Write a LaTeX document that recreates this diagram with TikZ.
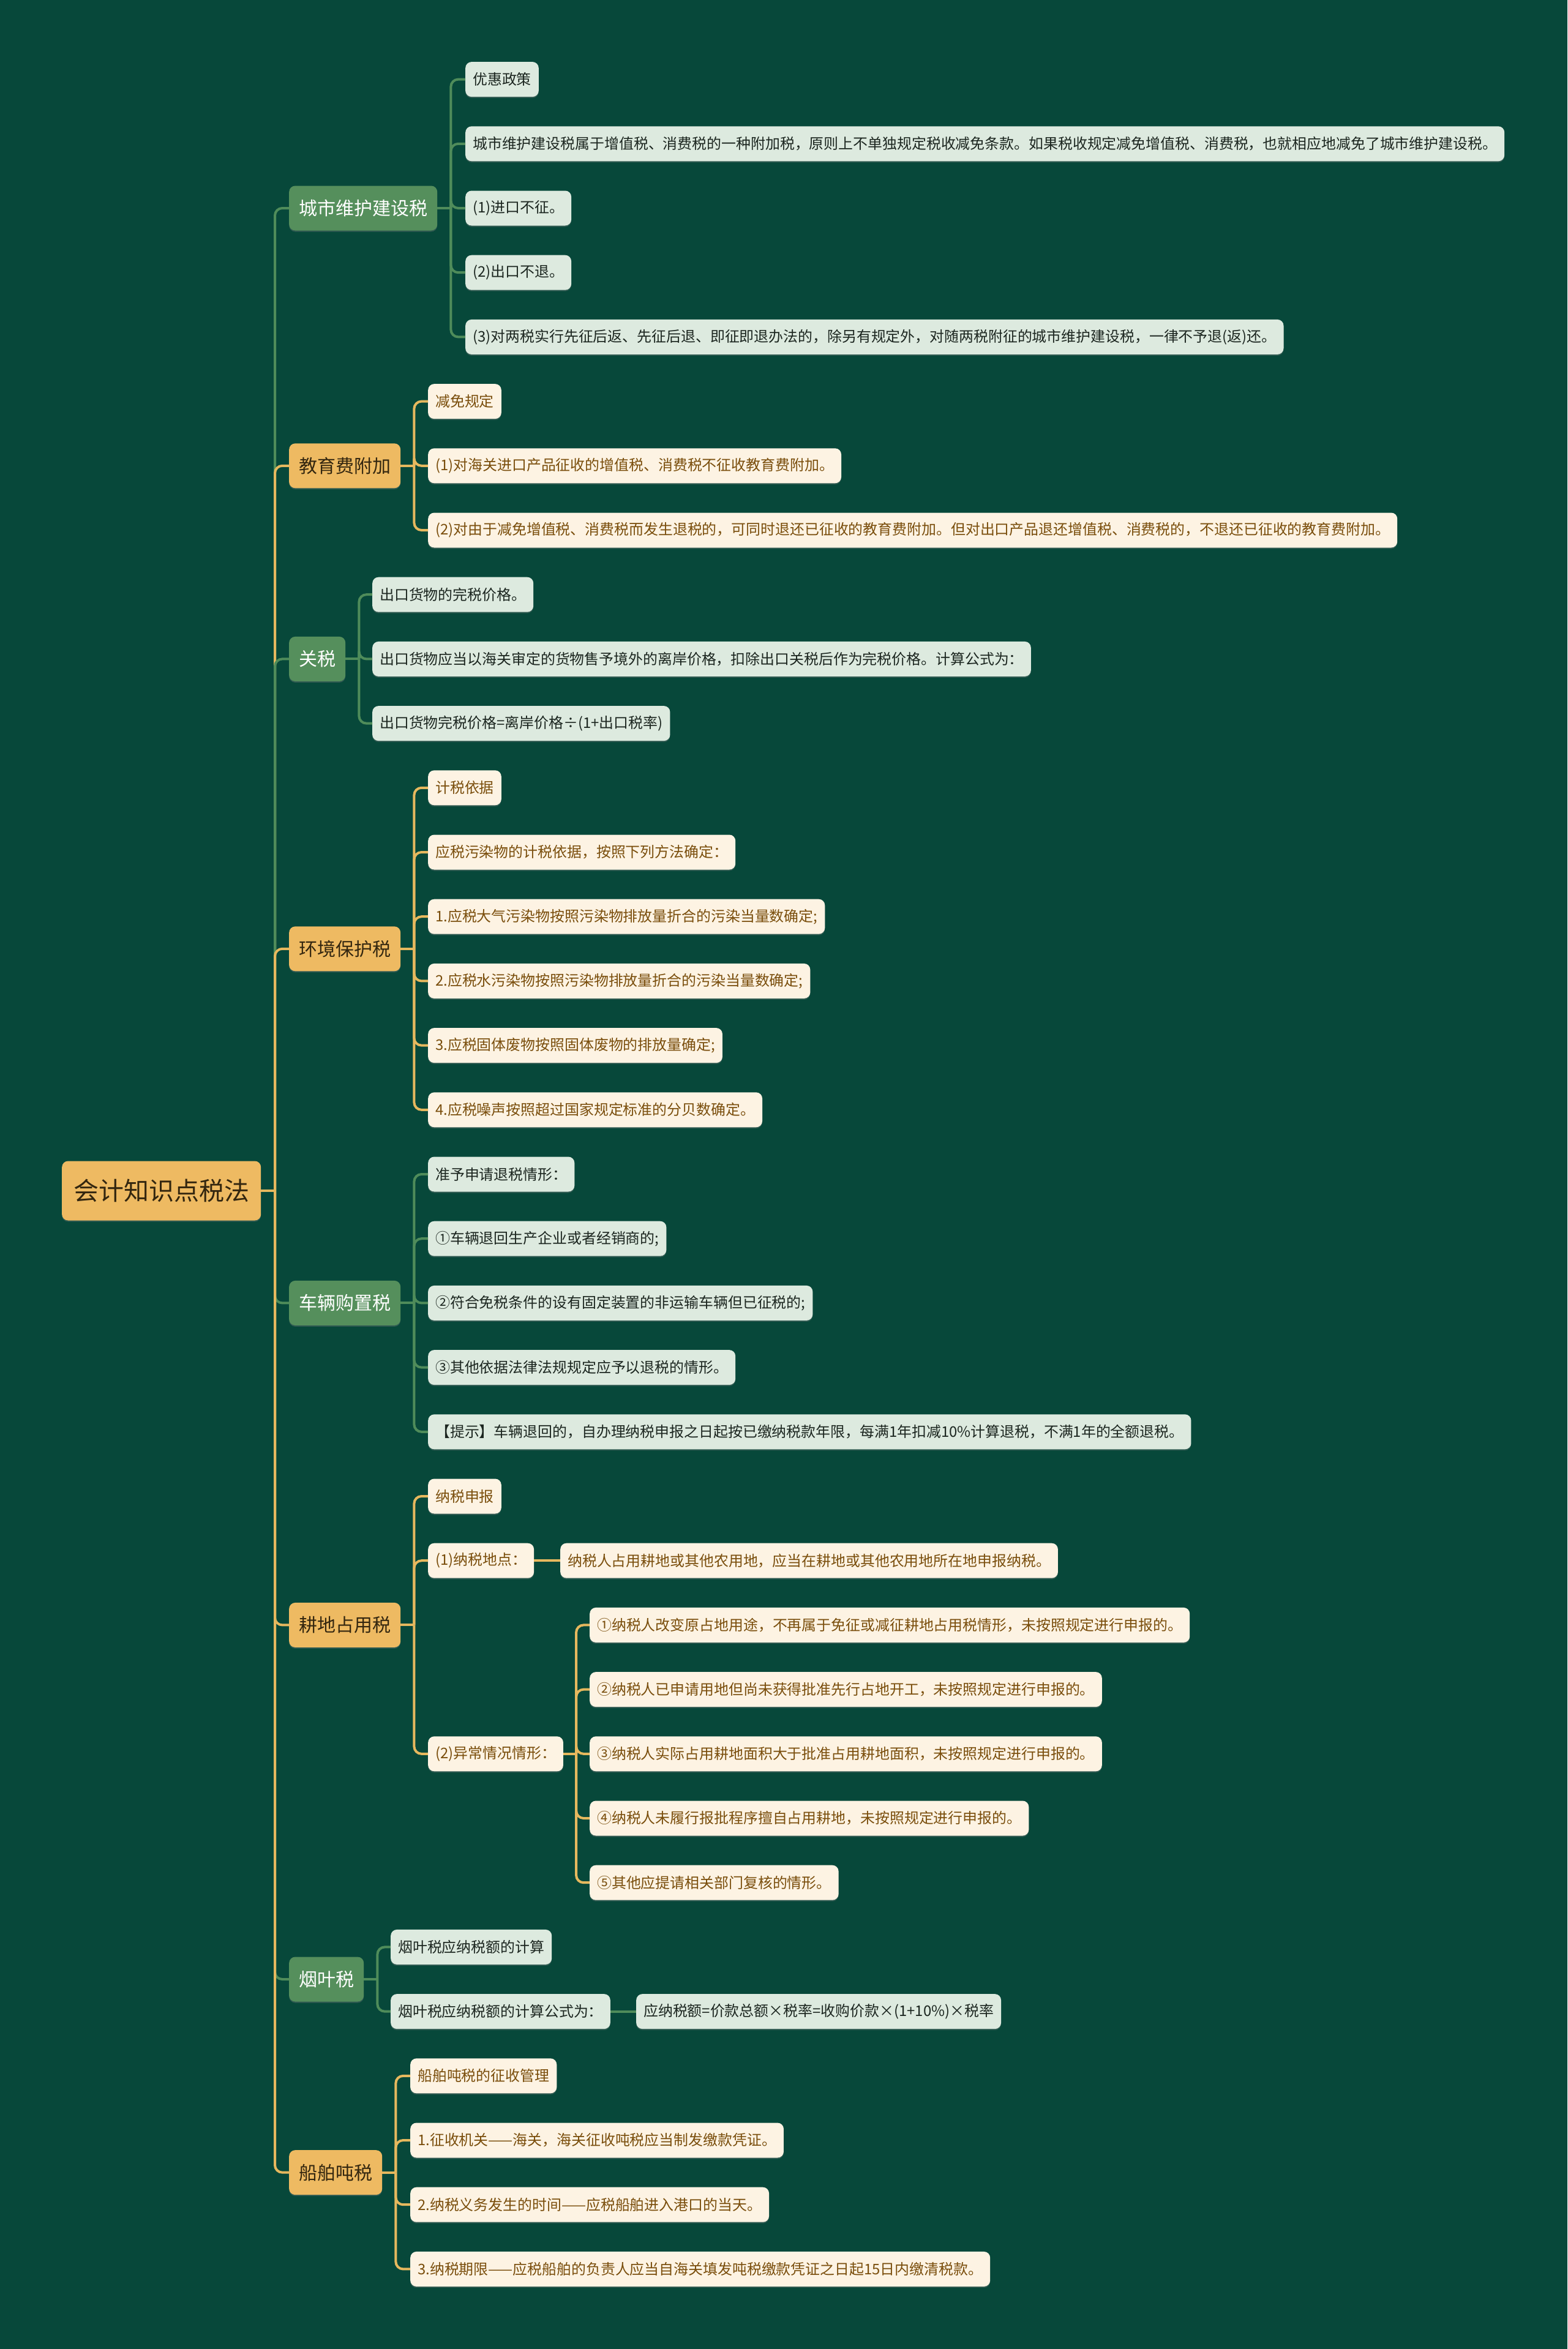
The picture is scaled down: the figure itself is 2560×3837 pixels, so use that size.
\documentclass[tikz,border=0pt]{standalone}
\usepackage{fontspec}
\setmainfont{Noto Sans CJK SC}
\usetikzlibrary{shadows}
\definecolor{mmbg}{HTML}{07483A}
\definecolor{mmgrn}{HTML}{558F5C}
\definecolor{mmylw}{HTML}{EEBA62}
\definecolor{mmgleaf}{HTML}{DDEADF}
\definecolor{mmyleaf}{HTML}{FDF3E3}
\definecolor{mmgtxt}{HTML}{1C2620}
\definecolor{mmytxt}{HTML}{7A4E0C}
\definecolor{mmroot}{HTML}{33260F}
\definecolor{mmglink}{HTML}{4F8C5A}
\definecolor{mmylink}{HTML}{E6B85E}

\begin{document}
\begin{tikzpicture}[x=1pt,y=-1pt,
  box/.style={anchor=west,rounded corners=10pt,inner ysep=0pt,
    drop shadow={shadow xshift=0pt,shadow yshift=-2pt,opacity=.35}},
  rootbox/.style={box,fill=mmylw,text=mmroot,minimum height=97pt,inner xsep=19pt,
    font=\fontsize{41pt}{48pt}\selectfont},
  gmain/.style={box,fill=mmgrn,text=white,minimum height=73pt,inner xsep=16pt,
    font=\fontsize{30pt}{36pt}\selectfont},
  ymain/.style={box,fill=mmylw,text=mmroot,minimum height=73pt,inner xsep=16pt,
    font=\fontsize{30pt}{36pt}\selectfont},
  leaf/.style={box,minimum height=57pt,inner xsep=12pt,font=\fontsize{23.9pt}{28pt}\selectfont},
  gleaf/.style={leaf,fill=mmgleaf,text=mmgtxt},
  yleaf/.style={leaf,fill=mmyleaf,text=mmytxt},
  glink/.style={draw=mmglink,line width=4pt,rounded corners=12pt},
  ylink/.style={draw=mmylink,line width=4pt,rounded corners=12pt}]

  \fill[mmbg] (0,0) rectangle (2560,3837);
  \useasboundingbox (0,0) rectangle (2560,3837);

  % root and first level
  \node[rootbox] (root) at (101,1945) {会计知识点税法};
  \coordinate (hub) at (449,1945);
  \node[gmain] (cs) at (472,{129.6+105.2*2}) {城市维护建设税};
  \node[ymain] (jy) at (472,{129.6+105.2*6}) {教育费附加};
  \node[gmain] (gs) at (472,{129.6+105.2*9}) {关税};
  \node[ymain] (hj) at (472,{129.6+105.2*13.5}) {环境保护税};
  \node[gmain] (cl) at (472,{129.6+105.2*19}) {车辆购置税};
  \node[ymain] (gd) at (472,{129.6+105.2*24}) {耕地占用税};
  \node[gmain] (yy) at (472,{129.6+105.2*29.5}) {烟叶税};
  \node[ymain] (cb) at (472,{129.6+105.2*32.5}) {船舶吨税};
  \foreach \n/\c in {cs/glink,jy/ylink,gs/glink,hj/ylink,cl/glink,gd/ylink,yy/glink,cb/ylink}{
    \draw[\c] (hub) |- (\n.west);}
  \draw[ylink] (root.east) -- (hub);

  % 城市维护建设税
  \coordinate (cs-hub) at ([xshift=22pt]cs.east);
  \draw[glink] (cs.east) -- (cs-hub);
  \foreach \r/\t in {0/优惠政策,
    1/城市维护建设税属于增值税、消费税的一种附加税，原则上不单独规定税收减免条款。如果税收规定减免增值税、消费税，也就相应地减免了城市维护建设税。,
    2/(1)进口不征。,
    3/(2)出口不退。,
    4/(3)对两税实行先征后返、先征后退、即征即退办法的，除另有规定外，对随两税附征的城市维护建设税，一律不予退(返)还。}{
    \node[gleaf] (cs-\r) at (760,{129.6+105.2*\r}) {\t};
    \draw[glink] (cs-hub) |- (cs-\r.west);}

  % 教育费附加
  \coordinate (jy-hub) at ([xshift=22pt]jy.east);
  \draw[ylink] (jy.east) -- (jy-hub);
  \foreach \r/\t in {5/减免规定,
    6/(1)对海关进口产品征收的增值税、消费税不征收教育费附加。,
    7/(2)对由于减免增值税、消费税而发生退税的，可同时退还已征收的教育费附加。但对出口产品退还增值税、消费税的，不退还已征收的教育费附加。}{
    \node[yleaf] (jy-\r) at (699,{129.6+105.2*\r}) {\t};
    \draw[ylink] (jy-hub) |- (jy-\r.west);}

  % 关税
  \coordinate (gs-hub) at ([xshift=22pt]gs.east);
  \draw[glink] (gs.east) -- (gs-hub);
  \foreach \r/\t in {8/出口货物的完税价格。,
    9/出口货物应当以海关审定的货物售予境外的离岸价格，扣除出口关税后作为完税价格。计算公式为：,
    10/出口货物完税价格=离岸价格÷(1+出口税率)}{
    \node[gleaf] (gs-\r) at (608,{129.6+105.2*\r}) {\t};
    \draw[glink] (gs-hub) |- (gs-\r.west);}

  % 环境保护税
  \coordinate (hj-hub) at ([xshift=22pt]hj.east);
  \draw[ylink] (hj.east) -- (hj-hub);
  \foreach \r/\t in {11/计税依据,
    12/应税污染物的计税依据，按照下列方法确定：,
    13/1.应税大气污染物按照污染物排放量折合的污染当量数确定;,
    14/2.应税水污染物按照污染物排放量折合的污染当量数确定;,
    15/3.应税固体废物按照固体废物的排放量确定;,
    16/4.应税噪声按照超过国家规定标准的分贝数确定。}{
    \node[yleaf] (hj-\r) at (699,{129.6+105.2*\r}) {\t};
    \draw[ylink] (hj-hub) |- (hj-\r.west);}

  % 车辆购置税
  \coordinate (cl-hub) at ([xshift=22pt]cl.east);
  \draw[glink] (cl.east) -- (cl-hub);
  \foreach \r/\t in {17/准予申请退税情形：,
    18/①车辆退回生产企业或者经销商的;,
    19/②符合免税条件的设有固定装置的非运输车辆但已征税的;,
    20/③其他依据法律法规规定应予以退税的情形。,
    21/【提示】车辆退回的，自办理纳税申报之日起按已缴纳税款年限，每满1年扣减10\%计算退税，不满1年的全额退税。}{
    \node[gleaf] (cl-\r) at (699,{129.6+105.2*\r}) {\t};
    \draw[glink] (cl-hub) |- (cl-\r.west);}

  % 耕地占用税
  \coordinate (gd-hub) at ([xshift=22pt]gd.east);
  \draw[ylink] (gd.east) -- (gd-hub);
  \node[yleaf] (gd-a) at (699,{129.6+105.2*22}) {纳税申报};
  \node[yleaf] (gd-b) at (699,{129.6+105.2*23}) {(1)纳税地点：};
  \node[yleaf] (gd-c) at (699,{129.6+105.2*26}) {(2)异常情况情形：};
  \foreach \n in {gd-a,gd-b,gd-c}{\draw[ylink] (gd-hub) |- (\n.west);}
  \node[yleaf] (gd-b1) at (915,{129.6+105.2*23}) {纳税人占用耕地或其他农用地，应当在耕地或其他农用地所在地申报纳税。};
  \draw[ylink] (gd-b.east) -- (gd-b1.west);
  \coordinate (gd-chub) at ([xshift=21pt]gd-c.east);
  \draw[ylink] (gd-c.east) -- (gd-chub);
  \foreach \r/\t in {24/①纳税人改变原占地用途，不再属于免征或减征耕地占用税情形，未按照规定进行申报的。,
    25/②纳税人已申请用地但尚未获得批准先行占地开工，未按照规定进行申报的。,
    26/③纳税人实际占用耕地面积大于批准占用耕地面积，未按照规定进行申报的。,
    27/④纳税人未履行报批程序擅自占用耕地，未按照规定进行申报的。,
    28/⑤其他应提请相关部门复核的情形。}{
    \node[yleaf] (gd-c\r) at (963,{129.6+105.2*\r}) {\t};
    \draw[ylink] (gd-chub) |- (gd-c\r.west);}

  % 烟叶税
  \coordinate (yy-hub) at ([xshift=22pt]yy.east);
  \draw[glink] (yy.east) -- (yy-hub);
  \node[gleaf] (yy-a) at (638,{129.6+105.2*29}) {烟叶税应纳税额的计算};
  \node[gleaf] (yy-b) at (638,{129.6+105.2*30}) {烟叶税应纳税额的计算公式为：};
  \foreach \n in {yy-a,yy-b}{\draw[glink] (yy-hub) |- (\n.west);}
  \node[gleaf] (yy-b1) at (1039,{129.6+105.2*30}) {应纳税额=价款总额×税率=收购价款×(1+10\%)×税率};
  \draw[glink] (yy-b.east) -- (yy-b1.west);

  % 船舶吨税
  \coordinate (cb-hub) at ([xshift=22pt]cb.east);
  \draw[ylink] (cb.east) -- (cb-hub);
  \foreach \r/\t in {31/船舶吨税的征收管理,
    32/1.征收机关——海关，海关征收吨税应当制发缴款凭证。,
    33/2.纳税义务发生的时间——应税船舶进入港口的当天。,
    34/3.纳税期限——应税船舶的负责人应当自海关填发吨税缴款凭证之日起15日内缴清税款。}{
    \node[yleaf] (cb-\r) at (670,{129.6+105.2*\r}) {\t};
    \draw[ylink] (cb-hub) |- (cb-\r.west);}
\end{tikzpicture}
\end{document}
